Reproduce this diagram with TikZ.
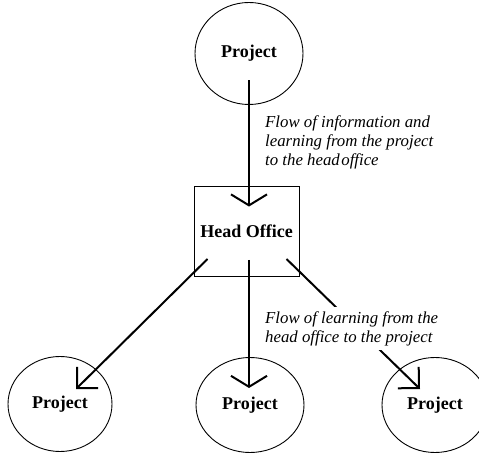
\documentclass[tikz,border=0pt]{standalone}
\usepackage{fontspec}
\setmainfont{Liberation Serif}
\usetikzlibrary{arrows.meta, shapes.geometric}

\tikzset{
  project/.style={draw, ellipse, line width=0.9pt, inner sep=0pt,
    minimum width=106pt, minimum height=95pt,
    font=\fontsize{18}{20}\selectfont\bfseries},
  office/.style={draw, rectangle, line width=0.9pt, inner sep=0pt,
    minimum width=105pt, minimum height=90pt,
    font=\fontsize{18}{20}\selectfont\bfseries},
  flow/.style={line width=2pt},
  vtip/.style={-{Straight Barb[length=11pt, width=36pt, line width=2pt]}},
  dtip/.style={-{Straight Barb[length=15pt, width=30pt, line width=2pt]}},
  note/.style={align=left, anchor=north west, inner sep=0pt,
    font=\fontsize{16.8}{19}\selectfont\itshape},
}

\begin{document}
\begin{tikzpicture}[x=1pt, y=-1pt]
  \useasboundingbox (0,0) rectangle (479,454);
  \clip (0,0) rectangle (479,454);

  % project and head office boxes
  \node[project, minimum width=108pt, minimum height=102pt] (p0) at (249,53.5) {Project};
  \node[office]  (ho) at (246.5,231) {Head Office};
  \node[project, minimum width=104pt] (p1) at (60,404) {Project};
  \node[project, minimum width=108pt] (p2) at (250,405) {Project};
  \node[project] (p3) at (435,405) {Project};

  % upward flow: project to head office
  \draw[flow, vtip] ([yshift=-27pt]p0.center) -- ([xshift=2.5pt,yshift=-21pt]ho.north);

  % downward flows: head office to the projects
  \draw[flow, dtip] ([xshift=-39pt,yshift=-28pt]ho.center) -- ([xshift=16pt,yshift=15pt]p1.center);
  \draw[flow, vtip] ([xshift=2.5pt,yshift=-29pt]ho.center) -- ([xshift=-1pt,yshift=17pt]p2.center);
  \draw[flow, dtip] ([xshift=40pt,yshift=-28pt]ho.center) -- ([xshift=-15pt,yshift=16pt]p3.center);

  % captions
  \node[note] (n1) at (265,115.5)
    {Flow of information and\\learning from the project\\to the head\hspace{1.5pt}office};
  \node[note, fill=white, inner sep=4pt] (n2) at (261,307)
    {Flow of learning from the\\head office to the project};
\end{tikzpicture}
\end{document}
